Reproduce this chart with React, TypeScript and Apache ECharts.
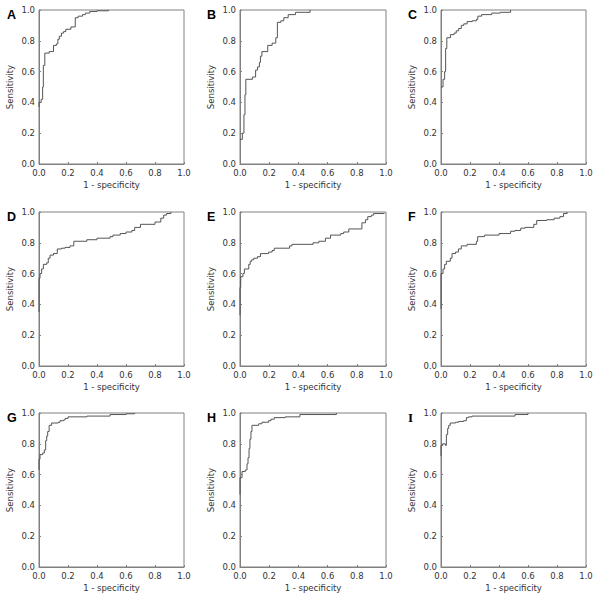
import React, { useEffect, useRef } from "react";
import * as echarts from "echarts";

const panelLetters = ["A", "B", "C", "D", "E", "F", "G", "H", "I"];
const xTicks = [0, 0.2, 0.4, 0.6, 0.8, 1.0];

const rocA: number[][] = [[0,0.37],[0,0.40],[0.015,0.42],[0.025,0.50],[0.03,0.64],[0.04,0.72],[0.07,0.73],[0.1,0.77],[0.12,0.78],[0.13,0.81],[0.14,0.83],[0.155,0.85],[0.17,0.86],[0.185,0.875],[0.22,0.89],[0.25,0.95],[0.27,0.96],[0.3,0.97],[0.32,0.98],[0.35,0.99],[0.4,0.995],[0.48,1.0]];
const rocB: number[][] = [[0,0.16],[0.016,0.2],[0.027,0.32],[0.034,0.45],[0.04,0.55],[0.085,0.565],[0.107,0.61],[0.12,0.63],[0.133,0.66],[0.14,0.7],[0.15,0.73],[0.19,0.77],[0.22,0.785],[0.245,0.82],[0.256,0.92],[0.28,0.93],[0.3,0.95],[0.33,0.97],[0.38,0.985],[0.48,1.0]];
const rocC: number[][] = [[0,0.5],[0.014,0.55],[0.025,0.6],[0.032,0.75],[0.04,0.82],[0.065,0.84],[0.09,0.85],[0.105,0.865],[0.122,0.88],[0.14,0.9],[0.157,0.91],[0.18,0.925],[0.215,0.93],[0.245,0.94],[0.254,0.96],[0.28,0.97],[0.35,0.98],[0.41,0.985],[0.48,1.0]];
const rocD: number[][] = [[0,0.35],[0,0.57],[0.007,0.6],[0.018,0.63],[0.03,0.66],[0.053,0.67],[0.064,0.7],[0.076,0.72],[0.1,0.73],[0.126,0.76],[0.156,0.765],[0.18,0.77],[0.214,0.78],[0.24,0.81],[0.33,0.82],[0.4,0.83],[0.49,0.84],[0.51,0.85],[0.56,0.86],[0.6,0.87],[0.64,0.88],[0.66,0.9],[0.7,0.92],[0.8,0.935],[0.84,0.96],[0.86,0.98],[0.88,0.99],[0.91,1.0]];
const rocE: number[][] = [[0,0.33],[0,0.51],[0.005,0.58],[0.02,0.6],[0.03,0.63],[0.06,0.66],[0.07,0.68],[0.08,0.69],[0.094,0.7],[0.12,0.71],[0.14,0.73],[0.196,0.74],[0.22,0.75],[0.235,0.765],[0.34,0.78],[0.356,0.79],[0.5,0.8],[0.54,0.81],[0.585,0.83],[0.62,0.85],[0.69,0.86],[0.71,0.87],[0.745,0.89],[0.835,0.93],[0.86,0.95],[0.875,0.97],[0.9,0.98],[0.915,0.99],[0.99,0.99]];
const rocF: number[][] = [[0,0.37],[0,0.6],[0.014,0.63],[0.025,0.66],[0.037,0.68],[0.064,0.7],[0.076,0.73],[0.1,0.74],[0.12,0.76],[0.14,0.78],[0.18,0.79],[0.244,0.81],[0.253,0.84],[0.3,0.85],[0.4,0.86],[0.48,0.875],[0.51,0.88],[0.55,0.895],[0.58,0.9],[0.64,0.92],[0.66,0.945],[0.73,0.95],[0.78,0.96],[0.82,0.97],[0.845,0.99],[0.87,1.0]];
const rocG: number[][] = [[0,0.63],[0,0.7],[0.007,0.73],[0.025,0.74],[0.037,0.76],[0.046,0.82],[0.053,0.85],[0.06,0.88],[0.07,0.92],[0.087,0.935],[0.133,0.94],[0.145,0.95],[0.17,0.955],[0.18,0.965],[0.2,0.975],[0.33,0.98],[0.49,0.99],[0.6,0.995],[0.66,1.0]];
const rocH: number[][] = [[0,0.47],[0,0.58],[0.014,0.62],[0.036,0.63],[0.048,0.67],[0.055,0.71],[0.062,0.77],[0.068,0.83],[0.075,0.88],[0.082,0.92],[0.128,0.93],[0.15,0.94],[0.196,0.95],[0.212,0.96],[0.235,0.97],[0.31,0.975],[0.41,0.99],[0.66,1.0]];
const rocI: number[][] = [[0,0.72],[0,0.79],[0.012,0.8],[0.03,0.79],[0.037,0.86],[0.046,0.9],[0.053,0.92],[0.064,0.935],[0.1,0.94],[0.122,0.945],[0.156,0.95],[0.175,0.97],[0.19,0.975],[0.214,0.98],[0.51,0.99],[0.6,1.0]];

const curves = [rocA, rocB, rocC, rocD, rocE, rocF, rocG, rocH, rocI];

// panel layout: [left, top, width, height]
const colLefts = [39, 240, 441];
const colWidths = [145, 146, 145];
const rowTops = [10, 212, 413];
const plotH = 154;

export default function App() {
  const ref = useRef<HTMLDivElement>(null);
  useEffect(() => {
    document.body.style.margin = "0";
    const chart = echarts.init(ref.current!, null, { renderer: "svg" });
    const font = "DejaVu Sans";
    const grids: any[] = [];
    const xAxes: any[] = [];
    const yAxes: any[] = [];
    const series: any[] = [];
    const graphics: any[] = [];
    curves.forEach((data, i) => {
      const r = Math.floor(i / 3);
      const c = i % 3;
      grids.push({
        left: colLefts[c],
        top: rowTops[r],
        width: colWidths[c],
        height: plotH,
        show: true,
        borderColor: "#808080",
        borderWidth: 1,
        containLabel: false,
      });
      const common = {
        gridIndex: i,
        type: "value",
        min: 0,
        max: 1,
        interval: 0.2,
        nameLocation: "middle",
        nameTextStyle: { fontFamily: font, fontSize: 8.5, color: "#333" },
        axisLine: { show: true, lineStyle: { color: "#808080", width: 1 } },
        axisTick: { show: true, inside: true, length: 2, lineStyle: { color: "#808080" } },
        splitLine: { show: false },
        axisLabel: {
          fontFamily: font,
          fontSize: 8.5,
          color: "#333",
          margin: 4,
          formatter: (v: number) => v.toFixed(1),
        },
      };
      xAxes.push({ ...common, name: "1 - specificity", nameGap: 16 });
      yAxes.push({ ...common, name: "Sensitivity", nameGap: 25 });
      series.push({
        type: "line",
        xAxisIndex: i,
        yAxisIndex: i,
        data,
        step: "end",
        showSymbol: false,
        symbol: "none",
        lineStyle: { color: "#555", width: 1 },
      });
      graphics.push({
        type: "text",
        left: [7, 207, 408][c],
        top: rowTops[r] - 2,
        style: {
          text: panelLetters[i],
          font: i === 8 ? "bold 13px 'Liberation Serif'" : "bold 12.5px 'Liberation Sans'",
          fill: "#000",
        },
      });
    });
    chart.setOption({
      animation: false,
      backgroundColor: "#fff",
      grid: grids,
      xAxis: xAxes,
      yAxis: yAxes,
      series,
      graphic: graphics,
    });
    return () => chart.dispose();
  }, []);
  return <div ref={ref} style={{ width: 600, height: 599 }} />;
}
